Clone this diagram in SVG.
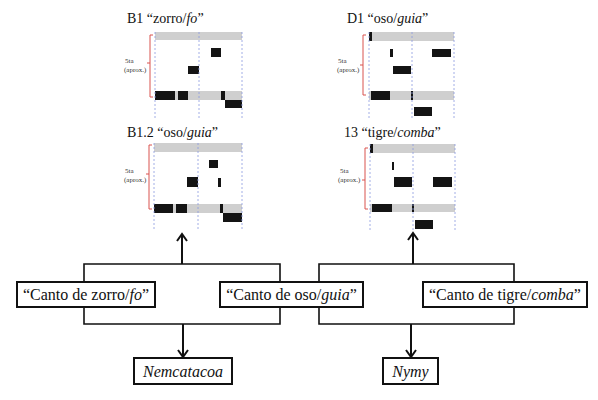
<svg xmlns="http://www.w3.org/2000/svg" width="598" height="400" viewBox="0 0 598 400">
<style>
text{font-family:"Liberation Serif","Times New Roman",serif;fill:#111}
.title{font-size:14px}
.lab{font-size:7px;fill:#333}
.box{fill:#fff;stroke:#111;stroke-width:2}
.btxt{font-size:16px;text-anchor:middle}
.gray{fill:#cfcfcf}
.blk{fill:#141414}
.dash{stroke:#8a9ae0;stroke-width:0.8;stroke-dasharray:2 2;fill:none}
.br{stroke:#d9534f;stroke-width:1;fill:none}
.con{stroke:#111;stroke-width:1.6;fill:none}
.arr{stroke:#111;stroke-width:2;fill:none}
</style>
<defs>
<marker id="ah" viewBox="0 0 10 12" refX="8" refY="6" markerWidth="10" markerHeight="12" markerUnits="userSpaceOnUse" orient="auto">
<path d="M1,1 L8,6 L1,11" fill="none" stroke="#111" stroke-width="2"/>
</marker>
</defs>
<rect width="598" height="400" fill="#fff"/>

<g id="chart-B1">
<text class="title" x="127" y="23">B1 “zorro/<tspan font-style="italic">fo</tspan>”</text>
<text class="lab" x="125" y="63">5ta</text>
<text class="lab" x="124" y="72">(aprox.)</text>
<path class="br" d="M153,35 H150 V97 H153 M150,63 H147"/>
<rect class="gray" x="155" y="32" width="87" height="8"/>
<rect class="gray" x="155" y="91" width="87" height="9"/>
<rect class="blk" x="211" y="48" width="10" height="9"/>
<rect class="blk" x="188" y="66" width="11" height="8"/>
<rect class="blk" x="155" y="91" width="20" height="9"/>
<rect class="blk" x="178" y="91" width="10" height="9"/>
<rect class="blk" x="221" y="91" width="4" height="9"/>
<rect class="blk" x="225" y="100" width="17" height="8"/>
<path class="dash" d="M155,32 V118 M199,32 V118 M242,32 V118"/>
</g>

<g id="chart-D1">
<text class="title" x="347" y="23">D1 “oso/<tspan font-style="italic">guia</tspan>”</text>
<text class="lab" x="338" y="63">5ta</text>
<text class="lab" x="337" y="72">(aprox.)</text>
<path class="br" d="M366,35 H363 V95 H366 M363,65 H360"/>
<rect class="gray" x="369" y="32" width="85" height="9"/>
<rect class="gray" x="369" y="91" width="85" height="9"/>
<rect class="blk" x="369" y="32" width="3" height="9"/>
<rect class="blk" x="390" y="49" width="3" height="8"/>
<rect class="blk" x="432" y="49" width="19" height="8"/>
<rect class="blk" x="393" y="66" width="18" height="8"/>
<rect class="blk" x="371" y="91" width="19" height="9"/>
<rect class="blk" x="411" y="91" width="2" height="9"/>
<rect class="blk" x="414" y="107" width="18" height="9"/>
<path class="dash" d="M369,32 V118 M412,32 V118 M454,32 V118"/>
</g>

<g id="chart-B1-2">
<text class="title" x="127" y="137">B1.2 “oso/<tspan font-style="italic">guia</tspan>”</text>
<text class="lab" x="125" y="173">5ta</text>
<text class="lab" x="124" y="182">(aprox.)</text>
<path class="br" d="M152,145 H149 V209 H152 M149,174 H146"/>
<rect class="gray" x="154" y="143" width="88" height="9"/>
<rect class="gray" x="154" y="204" width="88" height="9"/>
<rect class="blk" x="209" y="160" width="9" height="8"/>
<rect class="blk" x="187" y="177" width="11" height="10"/>
<rect class="blk" x="218" y="178" width="3" height="9"/>
<rect class="blk" x="154" y="204" width="19" height="9"/>
<rect class="blk" x="176" y="204" width="11" height="9"/>
<rect class="blk" x="220" y="204" width="3" height="9"/>
<rect class="blk" x="223" y="213" width="19" height="9"/>
<path class="dash" d="M154,143 V230 M198,143 V230 M242,143 V230"/>
</g>

<g id="chart-13">
<text class="title" x="344" y="137">13 “tigre/<tspan font-style="italic">comba</tspan>”</text>
<text class="lab" x="340" y="173">5ta</text>
<text class="lab" x="338" y="182">(aprox.)</text>
<path class="br" d="M368,148 H365 V209 H368 M365,180 H362"/>
<rect class="gray" x="370" y="144" width="85" height="9"/>
<rect class="gray" x="370" y="204" width="85" height="8"/>
<rect class="blk" x="370" y="144" width="3" height="9"/>
<rect class="blk" x="392" y="162" width="2" height="8"/>
<rect class="blk" x="394" y="177" width="18" height="10"/>
<rect class="blk" x="433" y="177" width="19" height="10"/>
<rect class="blk" x="372" y="204" width="20" height="8"/>
<rect class="blk" x="412" y="204" width="2" height="8"/>
<rect class="blk" x="415" y="220" width="18" height="9"/>
<path class="dash" d="M370,144 V232 M413,144 V232 M455,144 V232"/>
</g>

<g id="connectors">
<path class="con" d="M84,282 V264 H280 V282"/>
<path class="con" d="M319,282 V264 H514 V282"/>
<path class="con" d="M84,307 V324 H280 V307"/>
<path class="con" d="M319,307 V324 H514 V307"/>
<path class="arr" d="M182,264 V234" marker-end="url(#ah)"/>
<path class="arr" d="M413,264 V233" marker-end="url(#ah)"/>
<path class="arr" d="M183,324 V357" marker-end="url(#ah)"/>
<path class="arr" d="M411,324 V357" marker-end="url(#ah)"/>
</g>

<g id="node-zorro">
<rect class="box" x="17" y="282" width="138" height="25"/>
<text class="btxt" x="86" y="300">“Canto de zorro/<tspan font-style="italic">fo</tspan>”</text>
</g>
<g id="node-oso">
<rect class="box" x="220" y="282" width="143" height="25"/>
<text class="btxt" x="291.5" y="300">“Canto de oso/<tspan font-style="italic">guia</tspan>”</text>
</g>
<g id="node-tigre">
<rect class="box" x="423" y="282" width="164" height="25"/>
<text class="btxt" x="505" y="300">“Canto de tigre/<tspan font-style="italic">comba</tspan>”</text>
</g>
<g id="node-nemcatacoa">
<rect class="box" x="134" y="358" width="98" height="26"/>
<text class="btxt" x="183" y="377" font-style="italic">Nemcatacoa</text>
</g>
<g id="node-nymy">
<rect class="box" x="383" y="358" width="55" height="26"/>
<text class="btxt" x="410.5" y="377" font-style="italic">Nymy</text>
</g>
</svg>
